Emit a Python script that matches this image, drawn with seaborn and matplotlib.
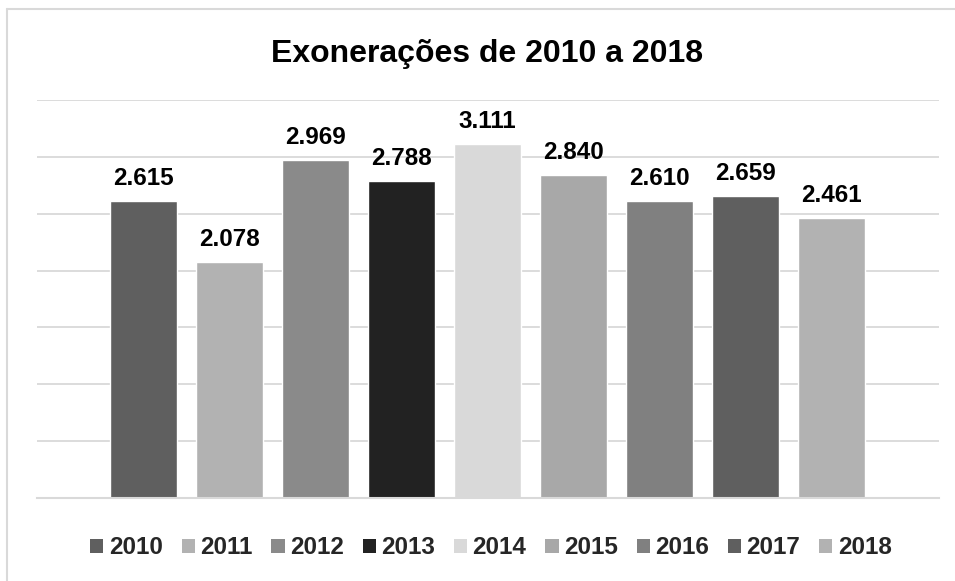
import matplotlib
matplotlib.use("Agg")
import matplotlib.pyplot as plt
from matplotlib.patches import Patch
from matplotlib.lines import Line2D
import seaborn as sns
import pandas as pd

years = ["2010", "2011", "2012", "2013", "2014", "2015", "2016", "2017", "2018"]
values = [2615, 2078, 2969, 2788, 3111, 2840, 2610, 2659, 2461]
colors = ["#5f5f5f", "#b2b2b2", "#8a8a8a", "#222222", "#d9d9d9",
          "#a8a8a8", "#808080", "#5f5f5f", "#b2b2b2"]
title = "Exonerações de 2010 a 2018"

sns.set_theme(style="white")
plt.rcParams['font.family'] = ['Liberation Sans', 'DejaVu Sans']

df = pd.DataFrame({"ano": years, "valor": values})

fig = plt.figure(figsize=(9.55, 5.81), dpi=100)
ax = fig.add_axes([37/955, 1 - 498/581, (939 - 37)/955, (498 - 100)/581])

sns.barplot(data=df, x="ano", y="valor", hue="ano", palette=colors,
            width=0.786, dodge=False, legend=False, ax=ax, saturation=1)

ax.set_ylim(0, 3500)
ax.set_xlim(-1.24, 9.25)
ax.yaxis.grid(True, color="#d9d9d9", linewidth=1.3)
ax.set_axisbelow(True)
for s in ["left", "right", "top"]:
    ax.spines[s].set_visible(False)
ax.spines["bottom"].set_color("#d9d9d9")
ax.spines["bottom"].set_linewidth(1.5)
ax.set_xticks([])
ax.set_yticks(range(0, 3501, 500))
ax.tick_params(axis="y", left=False, labelleft=False)
ax.set_xlabel("")
ax.set_ylabel("")

for cont in ax.containers:
    labs = [f"{v:,.0f}".replace(",", ".") for v in cont.datavalues]
    ax.bar_label(cont, labels=labs, padding=8, fontsize=17.5, fontweight="bold",
                 color="black")

fig.text(487/955, 1 - 62/581, title, ha="center", va="baseline",
         fontsize=23, fontweight="bold", color="black")

handles = [Patch(facecolor=c, edgecolor="none") for c in colors]
fig.legend(handles, years, loc="center", bbox_to_anchor=(491/955, 1 - 548/581),
           ncol=9, frameon=False, handlelength=0.54, handleheight=0.54,
           handletextpad=0.22, columnspacing=0.78,
           prop={"size": 17.5, "weight": "bold"})

fig.add_artist(Line2D([7/955, 7/955], [0, 1 - 9/581], transform=fig.transFigure,
                      color="#d9d9d9", linewidth=1.5))
fig.add_artist(Line2D([7/955, 1], [1 - 9/581, 1 - 9/581], transform=fig.transFigure,
                      color="#d9d9d9", linewidth=1.5))

fig.savefig("out.png", dpi=100, facecolor="white")
